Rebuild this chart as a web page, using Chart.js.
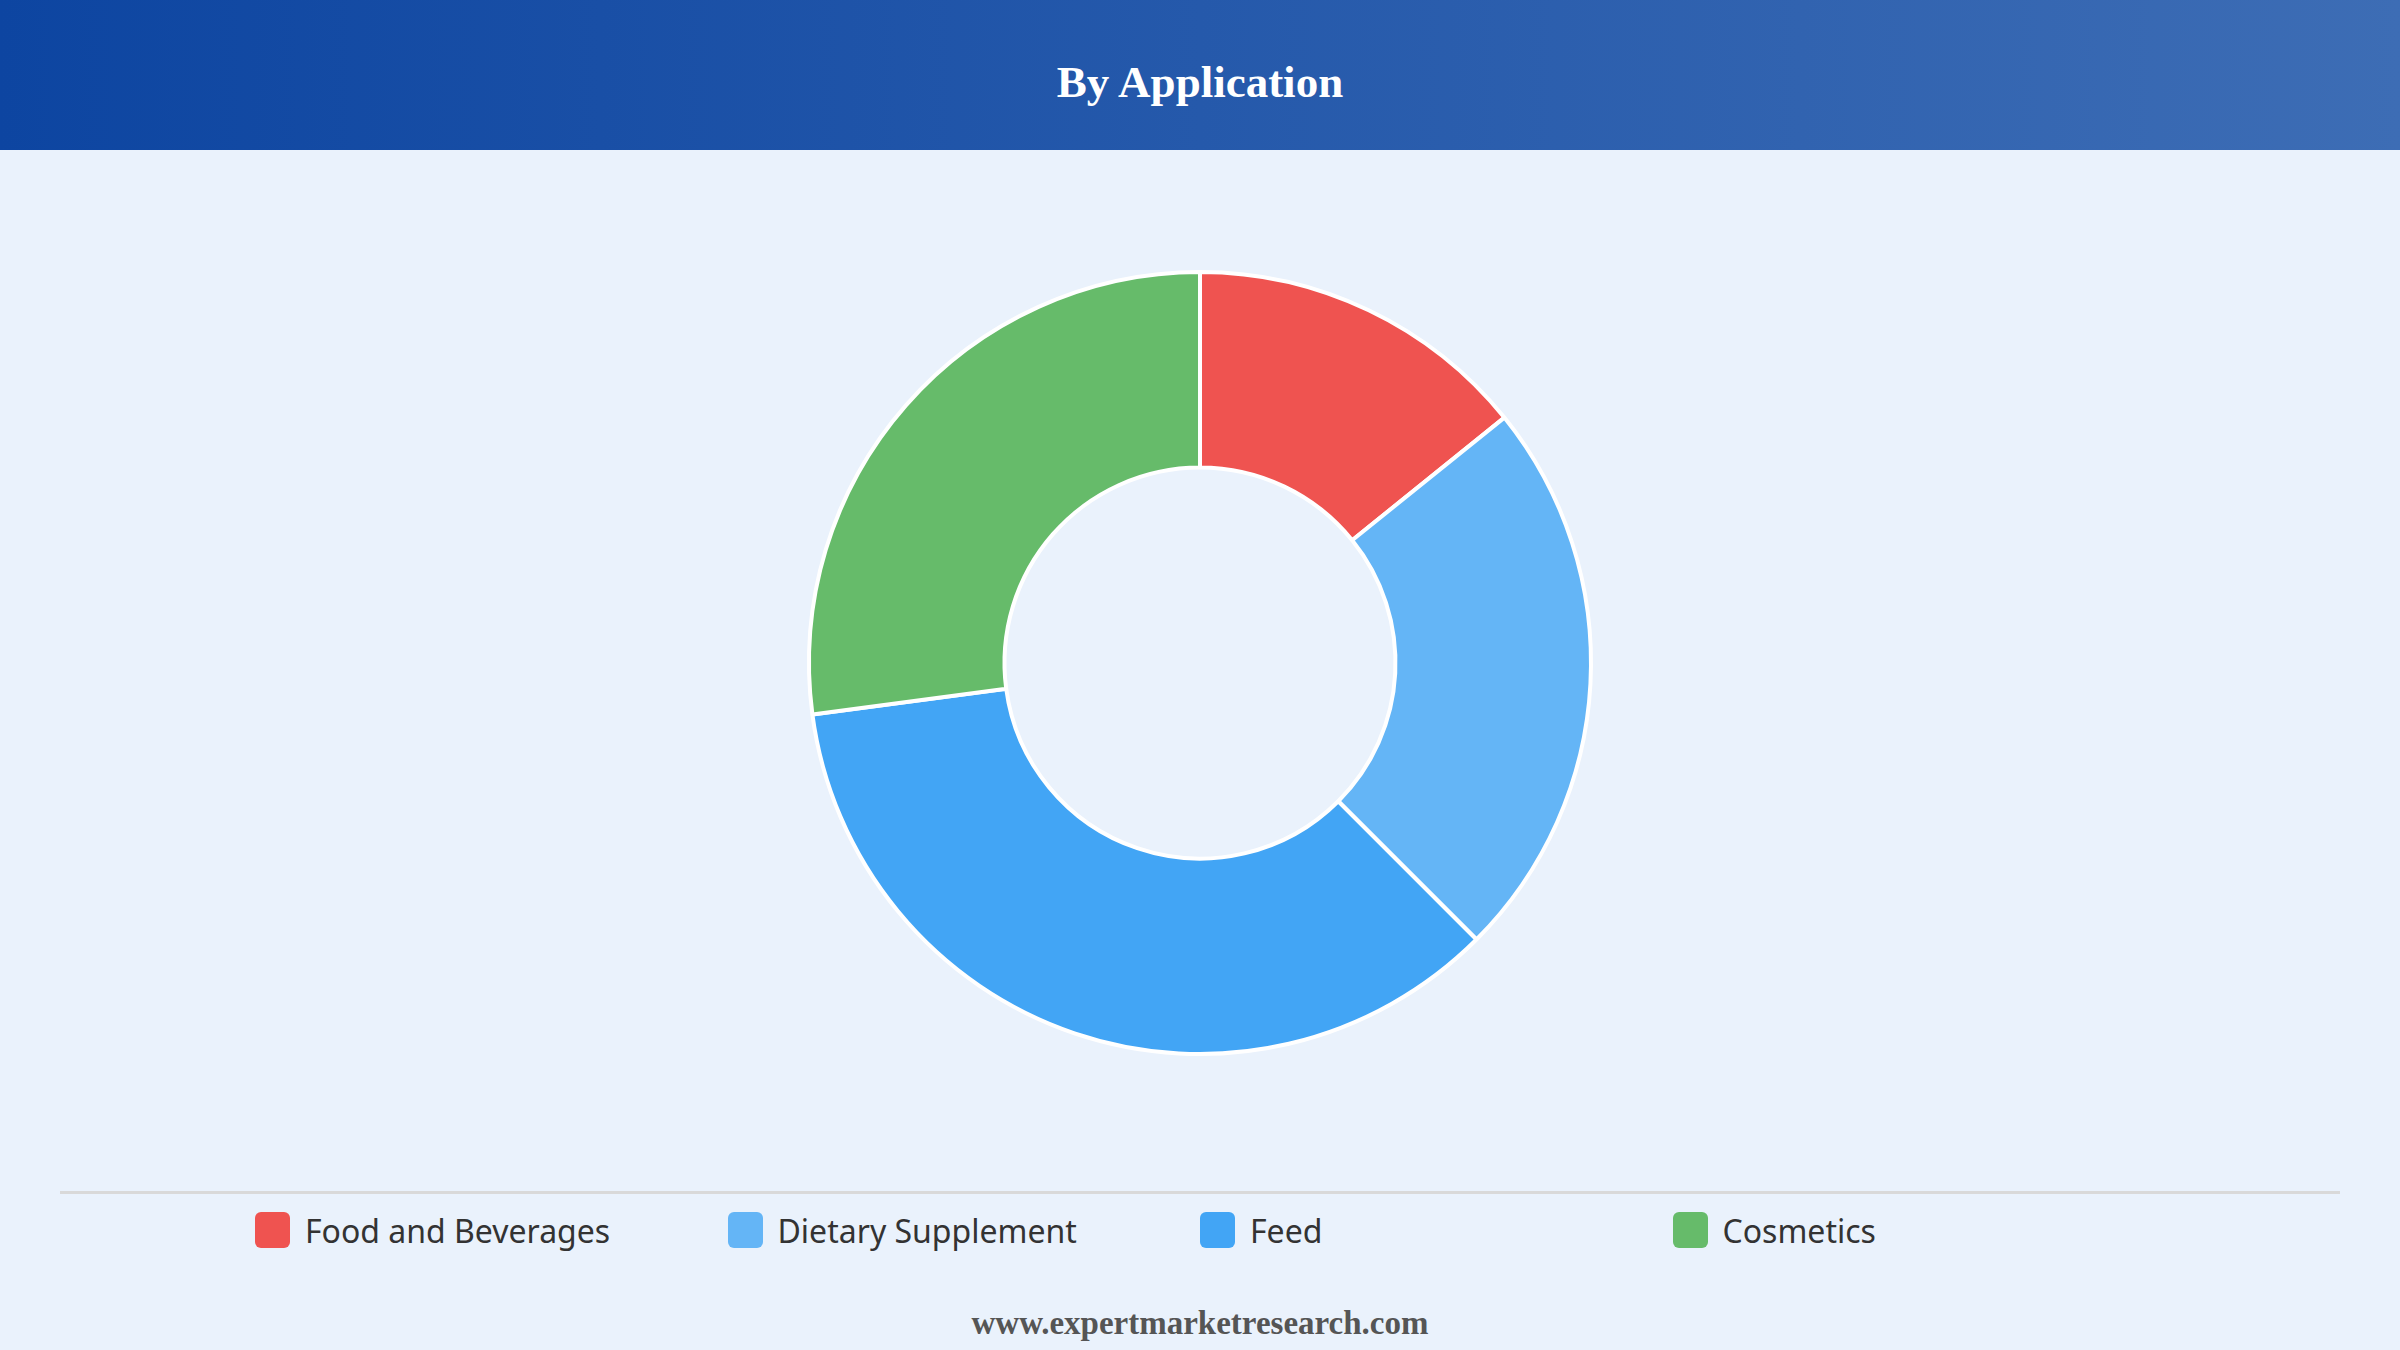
<!DOCTYPE html>
<html>
<head>
<meta charset="utf-8">
<script src="https://cdn.jsdelivr.net/npm/chart.js@4.4.1/dist/chart.umd.min.js"></script>
<style>
    html, body {
        margin: 0;
        padding: 0;
        width: 2400px;
        height: 1350px;
        overflow: hidden;
        background: #eaf2fc;
    }
    #header {
        position: absolute;
        left: 0;
        top: 0;
        width: 2400px;
        height: 150px;
        background: linear-gradient(90deg, #0d45a1 0%, #3d6db5 100%);
    }
    #title {
        position: absolute;
        left: 0;
        width: 2400px;
        top: 96px;
        transform: translateY(-80%);
        text-align: center;
        color: #fff;
        font: bold 45px "Liberation Serif", "DejaVu Serif", serif;
        line-height: 1;
    }
    #chartBox {
        position: absolute;
        left: 0;
        top: 260px;
        width: 2400px;
        height: 806px;
    }
    #divider {
        position: absolute;
        left: 60px;
        top: 1191px;
        width: 2280px;
        height: 3px;
        background: #d9d9d9;
    }
    #legend {
        position: absolute;
        left: 255px;
        top: 1212px;
        width: 1890px;
        display: grid;
        grid-template-columns: repeat(4, 1fr);
    }
    .legendItem {
        display: flex;
        align-items: center;
        height: 36px;
        font: 32px "Noto Sans", "Open Sans", sans-serif;
        color: #333;
    }
    .legendBox {
        width: 35px;
        height: 36px;
        border-radius: 6px;
        margin-right: 15px;
        flex: none;
    }
    #footer {
        position: absolute;
        left: 0;
        width: 2400px;
        top: 1333px;
        transform: translateY(-80%);
        text-align: center;
        color: #555;
        font: bold 33px "Liberation Serif", "DejaVu Serif", serif;
        line-height: 1;
    }
</style>
</head>
<body>
<div id="header"><div id="title">By Application</div></div>
<div id="chartBox"><canvas id="applicationChart"></canvas></div>
<div id="divider"></div>
<div id="legend"></div>
<div id="footer">www.expertmarketresearch.com</div>

<script>
const categories = ['Food and Beverages', 'Dietary Supplement', 'Feed', 'Cosmetics'];
const shares = [14.2, 23.3, 35.4, 27.1];
const sliceColors = ['#ef5350', '#64b5f6', '#42a5f5', '#66bb6a'];

const chart = new Chart(window.applicationChart, {
    type: 'doughnut',
    data: {
        labels: categories,
        datasets: [
            {
                label: 'By Application',
                data: shares,
                backgroundColor: sliceColors,
                borderColor: '#ffffff',
                borderWidth: 4
            }
        ]
    },
    options: {
        responsive: true,
        maintainAspectRatio: false,
        devicePixelRatio: 1,
        animation: false,
        cutout: '50%',
        layout: { padding: 10 },
        plugins: {
            legend: { display: false },
            tooltip: { enabled: false }
        }
    }
});

// legend drawn as html so the four columns line up like the original
const items = chart.options.plugins.legend.labels.generateLabels(chart);
window.legend.innerHTML = items.map(item => `
    <div class="legendItem">
        <span class="legendBox" style="background:${item.fillStyle}"></span>
        <span>${item.text}</span>
    </div>
`).join('');
</script>
</body>
</html>
